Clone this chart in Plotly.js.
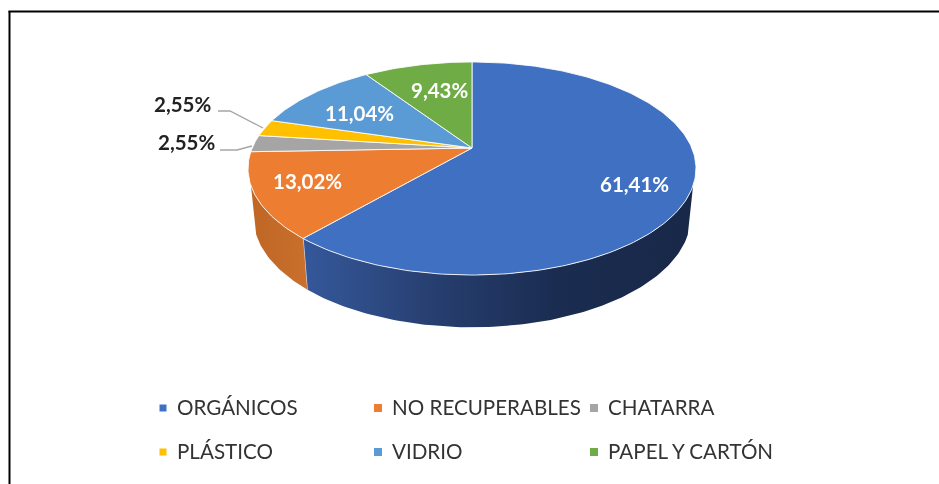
<!DOCTYPE html>
<html>
<head>
<meta charset="utf-8">
<script src="https://cdn.plot.ly/plotly-3.0.1.min.js"></script>
<style>
html,body{margin:0;padding:0;background:#fff;overflow:hidden}
#chart{width:939px;height:484px;filter:blur(0.7px)}
</style>
</head>
<body>
<div id="chart"></div>
<script>
// ---- data ----
const categories = ["ORGÁNICOS","NO RECUPERABLES","CHATARRA","PLÁSTICO","VIDRIO","PAPEL Y CARTÓN"];
const shares = [61.41,13.02,2.55,2.55,11.04,9.43];

// ---- styles ----
const sliceColors = ["#4070C2","#ED7D31","#A5A5A5","#FFC000","#5B9BD5","#6FAC46"];
const wallScales = {
  0:[[0,"#35589B"],[0.35,"#263E6E"],[0.65,"#1A2C50"],[1,"#182848"]],
  1:[[0,"#C06626"],[1,"#CA702C"]]
};
const labelAt = [[634,184,"#FFFFFF"],[307,181,"#FFFFFF"],[186,142,"#222222"],[182,104,"#222222"],[359,113,"#FFFFFF"],[439,90,"#FFFFFF"]];
const legendAt = [[163,408],[378,408],[594,408],[163,452],[378,452],[594,452]];
const leaders = {2:{x:[220,237,252],y:[150,150,146]},3:{x:[218,230,263],y:[111,111,128]}};

// projection of the tilted disc (perspective: far side compressed)
const cx = 472, tilt = 0.1925;
const top_ = {cy:148, a:219.8, b:102.6};
const bot_ = {cy:196, a:214.5, b:106};
const rad = d => d*Math.PI/180;
function project(disc, deg, r){
  const X = r*Math.sin(rad(deg)), Y = r*Math.cos(rad(deg)), w = 1 + tilt*Y;
  return [cx + disc.a*X/w, disc.cy - disc.b*Y/w];
}
function arc(disc, from, to){
  const pts = [], n = Math.max(2, Math.ceil(Math.abs(to-from)));
  for(let i=0;i<=n;i++) pts.push(project(disc, from+(to-from)*i/n, 1));
  return pts;
}
const total = shares.reduce((s,v)=>s+v,0);
let acc = 0;
const spans = shares.map(v=>{const s=[acc/total*360,(acc+v)/total*360];acc+=v;return s;});

const traces = [];
const wallLimits = [110,250]; // silhouette of the cylinder side

// side walls
spans.forEach((sp,i)=>{
  const from = Math.max(sp[0],wallLimits[0]), to = Math.min(sp[1],wallLimits[1]);
  if(to<=from) return;
  const poly = arc(top_,from,to).concat(arc(bot_,to,from));
  poly.push(poly[0]);
  const xs = poly.map(p=>p[0]);
  traces.push({type:"scatter",mode:"lines",x:xs,y:poly.map(p=>p[1]),fill:"toself",
    fillgradient:{type:"horizontal",start:Math.min(...xs),stop:Math.max(...xs),colorscale:wallScales[i]||[[0,sliceColors[i]],[1,sliceColors[i]]]},
    line:{width:0,color:"rgba(0,0,0,0)"},hoverinfo:"skip",showlegend:false});
  // separator at the end of the slice edge
  if(sp[1]<wallLimits[1]){
    const a=project(top_,sp[1],1), b=project(bot_,sp[1],1);
    traces.push({type:"scatter",mode:"lines",x:[a[0],b[0]],y:[a[1],b[1]],
      line:{width:1.2,color:"#D9DFEA"},hoverinfo:"skip",showlegend:false});
  }
});

// top face slices
spans.forEach((sp,i)=>{
  const poly = [[cx,top_.cy]].concat(arc(top_,sp[0],sp[1]));
  poly.push(poly[0]);
  traces.push({type:"scatter",mode:"lines",name:categories[i],x:poly.map(p=>p[0]),y:poly.map(p=>p[1]),
    fill:"toself",fillcolor:sliceColors[i],line:{width:1,color:"rgba(255,255,255,0.85)"},
    hoverinfo:"name",showlegend:false});
});

// leader lines
Object.keys(leaders).forEach(k=>{
  traces.push({type:"scatter",mode:"lines",x:leaders[k].x,y:leaders[k].y,
    line:{width:1.4,color:"#A6A6A6"},hoverinfo:"skip",showlegend:false});
});

// legend keys
categories.forEach((c,i)=>{
  traces.push({type:"scatter",mode:"markers",x:[legendAt[i][0]],y:[legendAt[i][1]],
    marker:{symbol:"square",size:i===0||i===3?7:8,color:sliceColors[i]},hoverinfo:"skip",showlegend:false});
});

const fmt = v => v.toFixed(2).replace(".",",")+"%";
const annotations = [];
shares.forEach((v,i)=>{
  annotations.push({x:labelAt[i][0],y:labelAt[i][1],xref:"x",yref:"y",text:fmt(v),showarrow:false,
    xanchor:"center",yanchor:"middle",font:{family:"Lato, sans-serif",size:20.5,color:labelAt[i][2],weight:700}});
});
categories.forEach((c,i)=>{
  annotations.push({x:legendAt[i][0]+11.5,y:legendAt[i][1]-1,xref:"x",yref:"y",text:c,showarrow:false,
    xanchor:"left",yanchor:"middle",font:{family:"Lato, sans-serif",size:20.6,color:"#333333"}});
});

const layout = {
  width:939,height:484,margin:{l:0,r:0,t:0,b:0},
  paper_bgcolor:"#fff",plot_bgcolor:"#fff",showlegend:false,
  xaxis:{range:[0,939],visible:false,fixedrange:true},
  yaxis:{range:[484,0],visible:false,fixedrange:true},
  annotations,
  shapes:[
    {type:"line",xref:"x",yref:"y",x0:8.5,x1:939,y0:11.5,y1:11.5,line:{color:"#000",width:2}},
    {type:"line",xref:"x",yref:"y",x0:9.5,x1:9.5,y0:11,y1:484,line:{color:"#000",width:2}}
  ]
};
Plotly.newPlot("chart",traces,layout,{displayModeBar:false,staticPlot:true});
</script>
</body>
</html>
